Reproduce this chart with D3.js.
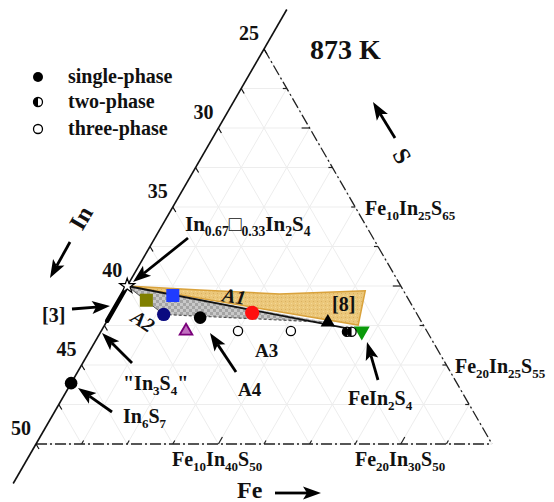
<!DOCTYPE html>
<html><head><meta charset="utf-8">
<script src="https://cdn.jsdelivr.net/npm/d3@7"></script>
<style>body{margin:0;background:#fff}svg text{font-family:"Liberation Serif","Times New Roman",serif;font-weight:bold;fill:#111}</style>
</head><body>
<svg id="chart" width="554" height="502"></svg>
<script>
// ---- data: compositions given as [Fe, In, S] (at.%) ----
const inAxisTicks = [25, 30, 35, 40, 45, 50];
const gridSteps = d3.range(0, 25.01, 2.5);
const singlePhaseComp = [[5.0, 37.0, 58.0], [0, 46.15, 53.85]];
const twoPhaseComp = [[13.5, 29.4, 57.1], [13.75, 29.15, 57.1]];
const threePhaseComp = [[7.5, 35.35, 57.15], [10.4, 32.45, 57.15]];
const in2s3Comp = [0, 40, 60];
const otherNames = ["olive", "blue", "navy", "red", "purple", "blackTri", "green"];
const otherComp = [[1.5, 39.4, 59.1], [2.8, 37.8, 59.4], [2.9, 38.9, 58.2], [7.7, 34.0, 58.3], [4.65, 38.2, 57.15], [12.15, 30.15, 57.7], [14.29, 28.57, 57.14]];
const regionA1 = [[0, 40, 60], [4.1, 36.15, 59.75], [8.6, 31.9, 59.5], [13.2, 27.1, 59.7], [13.9, 28.57, 57.53]];
const regionA2 = [[0, 40, 60], [2.9, 38.9, 58.2], [12.15, 30.15, 57.7]];
const tieLine = [[0, 40, 60], [14.29, 28.57, 57.14]];
const dashedTie = [[2.9, 38.9, 58.2], [12.15, 30.15, 57.7]];
const solidSolution3 = [[0, 40, 60], [0, 42.2, 57.8]];
const legendLabels = ["single-phase", "two-phase", "three-phase"];

// ---- styles ----
const otherStyle = {
  olive: {sym: d3.symbolSquare, size: 170, fill: "#7f7f00", stroke: "none", rot: 0},
  blue: {sym: d3.symbolSquare, size: 170, fill: "#1f3cff", stroke: "none", rot: 0},
  navy: {sym: d3.symbolCircle, size: 140, fill: "#0a0a80", stroke: "none", rot: 0},
  red: {sym: d3.symbolCircle, size: 160, fill: "#ff1010", stroke: "none", rot: 0},
  purple: {sym: d3.symbolTriangle, size: 70, fill: "#c070c0", stroke: "#7a007a", rot: 0},
  blackTri: {sym: d3.symbolTriangle, size: 90, fill: "#000", stroke: "none", rot: 0},
  green: {sym: d3.symbolTriangle, size: 110, fill: "#0a9a0a", stroke: "none", rot: 180}
};

const svg = d3.select("#chart");
const feScale = d3.scaleLinear().domain([0, 25]).range([36, 492]);
const sScale = d3.scaleLinear().domain([50, 75]).range([444, 49]);
const px = c => feScale(c[0]) + (feScale(c[2] - 50) - feScale(0)) / 2;
const py = c => sScale(c[2]);

// patterns
const defs = svg.append("defs");
const pt = defs.append("pattern").attr("id", "tan").attr("width", 4).attr("height", 4).attr("patternUnits", "userSpaceOnUse");
pt.append("rect").attr("width", 4).attr("height", 4).attr("fill", "#ebc77a");
pt.append("rect").attr("x", 1).attr("y", 1).attr("width", 1).attr("height", 1).attr("fill", "#d9b060");
pt.append("rect").attr("x", 3).attr("y", 3).attr("width", 1).attr("height", 1).attr("fill", "#f3d898");
const pg = defs.append("pattern").attr("id", "chk").attr("width", 6).attr("height", 6).attr("patternUnits", "userSpaceOnUse");
pg.append("rect").attr("width", 6).attr("height", 6).attr("fill", "#c9c9c9");
pg.append("rect").attr("width", 3).attr("height", 3).attr("fill", "#a4a4a4");
pg.append("rect").attr("x", 3).attr("y", 3).attr("width", 3).attr("height", 3).attr("fill", "#a4a4a4");

// grid
const grid = svg.append("g").attr("stroke", "#ededed").attr("stroke-width", 1);
gridSteps.forEach(d => {
  const s = 50 + d, f = d, i = 25 + d;
  const lines = [
    [[0, 100 - s, s], [75 - s, 25, s]],
    [[f, 50 - f, 50], [f, 25, 75 - f]],
    [[0, i, 100 - i], [50 - i, i, 50]]
  ];
  lines.forEach(l => grid.append("line").attr("x1", px(l[0])).attr("y1", py(l[0])).attr("x2", px(l[1])).attr("y2", py(l[1])));
});

// dash-dot boundaries
const corner = [25, 25, 50], apex = [0, 25, 75], blc = [0, 50, 50];
const bd = svg.append("g").attr("stroke", "#222").attr("stroke-width", 1.3).attr("stroke-dasharray", "11,3,2,3").attr("fill", "none");
bd.append("line").attr("x1", px(apex)).attr("y1", py(apex)).attr("x2", px(corner)).attr("y2", py(corner));
bd.append("line").attr("x1", px(blc)).attr("y1", py(blc)).attr("x2", px(corner)).attr("y2", py(corner));

// ticks on boundaries
const tk = svg.append("g").attr("stroke", "#222").attr("stroke-width", 1.2);
gridSteps.filter(d => d > 0 && d < 25).forEach(d => {
  const big = (d === 10 || d === 20);
  const L = big ? 8 : 4;
  const b = [d, 50 - d, 50];
  tk.append("line").attr("x1", px(b)).attr("y1", py(b)).attr("x2", px(b) + L * 0.5).attr("y2", py(b) - L * 0.866);
  const r = [25 - d, 25, 50 + d];
  tk.append("line").attr("x1", px(r)).attr("y1", py(r)).attr("x2", px(r) - L).attr("y2", py(r));
});

// left solid axis
const axA = [0, 22.5, 77.5], axB = [0, 52.5, 47.5];
svg.append("line").attr("x1", px(axA)).attr("y1", py(axA)).attr("x2", px(axB)).attr("y2", py(axB)).attr("stroke", "#111").attr("stroke-width", 1.6);
d3.range(25, 50.01, 2.5).forEach(v => {
  const c = [0, v, 100 - v];
  svg.append("line").attr("x1", px(c)).attr("y1", py(c)).attr("x2", px(c) + 3).attr("y2", py(c) + 5).attr("stroke", "#111").attr("stroke-width", 1.2);
});
inAxisTicks.forEach(v => {
  const c = [0, v, 100 - v];
  svg.append("text").attr("x", px(c) - 15).attr("y", py(c) - 16).attr("text-anchor", "middle").attr("dominant-baseline", "central").attr("font-size", 20).text(v);
});

// regions
const line = d3.line().x(px).y(py);
svg.append("path").attr("d", line(regionA1) + "Z").attr("fill", "url(#tan)").attr("stroke", "#d9a23c").attr("stroke-width", 1.5);
svg.append("path").attr("d", line(regionA2) + "Z").attr("fill", "url(#chk)").attr("stroke", "none");
svg.append("path").attr("d", line([regionA2[0], regionA2[1]])).attr("stroke", "#555").attr("stroke-width", 1).attr("fill", "none");
svg.append("path").attr("d", line(dashedTie)).attr("stroke", "#555").attr("stroke-width", 1.2).attr("stroke-dasharray", "3,2").attr("fill", "none");
svg.append("path").attr("d", line(tieLine)).attr("stroke", "#111").attr("stroke-width", 1.8).attr("fill", "none");
svg.append("path").attr("d", line(solidSolution3)).attr("stroke", "#000").attr("stroke-width", 4.5).attr("stroke-linecap", "round").attr("fill", "none");

// markers
otherComp.forEach((c, k) => {
  const st = otherStyle[otherNames[k]];
  svg.append("path").attr("d", d3.symbol().type(st.sym).size(st.size)())
    .attr("transform", `translate(${px(c)},${py(c)}) rotate(${st.rot})`)
    .attr("fill", st.fill).attr("stroke", st.stroke).attr("stroke-width", 1.8);
});
singlePhaseComp.forEach(c => svg.append("circle").attr("cx", px(c)).attr("cy", py(c)).attr("r", 6.3).attr("fill", "#000"));
threePhaseComp.forEach(c => svg.append("circle").attr("cx", px(c)).attr("cy", py(c)).attr("r", 4.6).attr("fill", "#fff").attr("stroke", "#000").attr("stroke-width", 1.3));
function halfCircle(g, x, y, r) {
  g.append("circle").attr("cx", x).attr("cy", y).attr("r", r).attr("fill", "#fff").attr("stroke", "#000").attr("stroke-width", 1.3);
  g.append("path").attr("d", `M${x},${y - r}A${r},${r} 0 0 0 ${x},${y + r}Z`).attr("fill", "#000");
}
twoPhaseComp.forEach(c => halfCircle(svg, px(c), py(c), 4.6));
svg.append("path").attr("d", d3.symbol().type(d3.symbolStar).size(70)()).attr("transform", `translate(${px(in2s3Comp)},${py(in2s3Comp)})`).attr("fill", "#fff").attr("stroke", "#000").attr("stroke-width", 1.2);

// legend
const lg = svg.append("g");
const ly = [77, 102, 129];
lg.append("circle").attr("cx", 38).attr("cy", ly[0]).attr("r", 5).attr("fill", "#000");
halfCircle(lg, 38, ly[1], 4.5);
lg.append("circle").attr("cx", 38).attr("cy", ly[2]).attr("r", 4.5).attr("fill", "#fff").attr("stroke", "#000").attr("stroke-width", 1.3);
legendLabels.forEach((t, k) => lg.append("text").attr("x", 68).attr("y", ly[k] + 6).attr("font-size", 20).text(t));

// text helpers
function rich(x, y, parts, size, anchor) {
  const t = svg.append("text").attr("x", x).attr("y", y).attr("font-size", size).attr("text-anchor", anchor || "start");
  let off = 0;
  parts.forEach(p => {
    const sub = Array.isArray(p);
    const s = sub ? p[0] : p;
    const target = sub ? size * 0.25 : 0;
    t.append("tspan").attr("dy", target - off).attr("font-size", sub ? size * 0.65 : size).text(s);
    off = target;
  });
  return t;
}
function arrow(x1, y1, x2, y2) {
  const a = Math.atan2(y2 - y1, x2 - x1), L = 18, W = 6.5, c = Math.cos(a), s = Math.sin(a);
  const bx = x2 - L * c, by = y2 - L * s;
  svg.append("line").attr("x1", x1).attr("y1", y1).attr("x2", bx + 4 * c).attr("y2", by + 4 * s).attr("stroke", "#000").attr("stroke-width", 2.8);
  svg.append("path").attr("d", `M${x2},${y2}L${bx - W * s},${by + W * c}L${bx + 4 * c},${by + 4 * s}L${bx + W * s},${by - W * c}Z`).attr("fill", "#000");
}

svg.append("text").attr("x", 310).attr("y", 59).attr("font-size", 28).text("873 K");
rich(185, 231, ["In", ["0.67"], "\u25A1", ["0.33"], "In", ["2"], "S", ["4"]], 21);
rich(365, 215, ["Fe", ["10"], "In", ["25"], "S", ["65"]], 20);
rich(455, 373, ["Fe", ["20"], "In", ["25"], "S", ["55"]], 20);
rich(348, 405, ["FeIn", ["2"], "S", ["4"]], 20);
rich(172, 466, ["Fe", ["10"], "In", ["40"], "S", ["50"]], 20);
rich(355, 466, ["Fe", ["20"], "In", ["30"], "S", ["50"]], 20);
rich(123, 390, ["\"In", ["3"], "S", ["4"], "\""], 20);
rich(123, 423, ["In", ["6"], "S", ["7"]], 20);
svg.append("text").attr("x", 255).attr("y", 357).attr("font-size", 19).text("A3");
svg.append("text").attr("x", 238).attr("y", 396).attr("font-size", 19).text("A4");
svg.append("text").attr("x", 42).attr("y", 322).attr("font-size", 20).text("[3]");
svg.append("text").attr("x", 332).attr("y", 311).attr("font-size", 20).text("[8]");
svg.append("text").attr("transform", "translate(233,303) rotate(9)").attr("text-anchor", "middle").attr("font-size", 20).attr("font-style", "italic").text("A1");
svg.append("text").attr("transform", "translate(143,321) rotate(33)").attr("text-anchor", "middle").attr("dominant-baseline", "central").attr("font-size", 20).attr("font-style", "italic").text("A2");
svg.append("text").attr("x", 237).attr("y", 498).attr("font-size", 24).text("Fe");
svg.append("text").attr("transform", "translate(81,218) rotate(-60)").attr("text-anchor", "middle").attr("dominant-baseline", "central").attr("font-size", 24).text("In");
svg.append("text").attr("transform", "translate(402,156) rotate(60)").attr("text-anchor", "middle").attr("dominant-baseline", "central").attr("font-size", 24).attr("font-weight", "normal").text("S");

arrow(395, 138, 373, 102);
arrow(70, 242, 50, 278);
arrow(275, 493, 321, 493);
arrow(188, 238, 133, 282);
arrow(72, 309, 110, 306);
arrow(132, 363, 102, 333);
arrow(112, 412, 78, 388);
arrow(236, 372, 210, 333);
arrow(378, 380, 367, 342);
</script>
</body></html>
